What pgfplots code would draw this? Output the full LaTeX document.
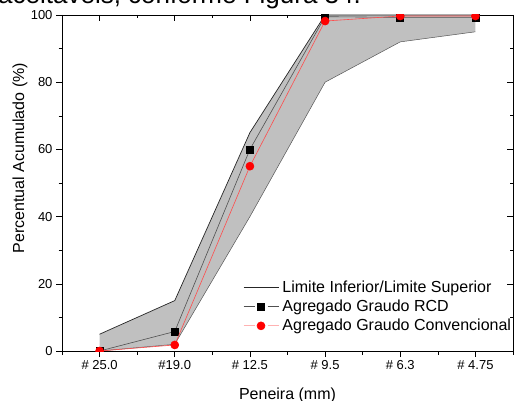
\documentclass[border=0pt]{standalone}
\usepackage{pgfplots}
\pgfplotsset{compat=1.18}
\usepackage{fontspec}
\setmainfont{Liberation Sans}
\definecolor{fillgray}{HTML}{C0C0C0}
\definecolor{rcdline}{HTML}{505050}
\begin{document}
\begin{tikzpicture}[x=1bp,y=1bp]
\node[anchor=base west, inner sep=0, font=\fontsize{26bp}{30bp}\selectfont] at (-2,396) {aceitáveis, conforme Figura 34.};
\pgfplotsset{myax/.style={at={(62bp,49bp)}, anchor=south west, scale only axis,
  width=451bp, height=336bp, xmin=-0.5, xmax=5.5, ymin=0, ymax=100,
  xtick={0,...,5}, minor xtick={-0.5,0.5,...,5.5},
  ytick={0,20,...,100}, minor ytick={10,30,...,90},
  major tick length=6bp, minor tick length=3.5bp,
  every tick/.style={black, line width=0.6bp}, every minor tick/.style={black, line width=0.6bp}}}
\begin{axis}[myax, axis line style={draw=none}, xtick pos=upper, ytick pos=right,
  tick align=inside, xticklabels={}, yticklabels={}]
\end{axis}
\begin{axis}[myax, tick align=outside, xtick pos=lower, ytick pos=left,
  axis line style={black, line width=0.8bp},
  xticklabels={\# 25.0, \#19.0, \# 12.5, \# 9.5, \# 6.3, \# 4.75},
  clip marker paths=true,
  /pgf/number format/assume math mode=true,
  ticklabel style={font=\fontsize{13bp}{15bp}\selectfont},
  label style={font=\fontsize{16bp}{19bp}\selectfont},
  xlabel={Peneira (mm)},
  xlabel style={at={(axis description cs:0.5,-0.143)}, anchor=base},
  ylabel={Percentual Acumulado (\%)},
  ylabel style={at={(axis description cs:-0.093,0.574)}, anchor=center, rotate=0},
  legend image code/.code={\draw[#1] (0bp,0bp) -- (35bp,0bp);},
  legend style={at={(axis description cs:0.401,0.213)}, anchor=north west, draw=none, fill=none,
    inner sep=0pt, row sep=3bp, font=\fontsize{16bp}{19bp}\selectfont,
    nodes={inner sep=1.5bp}, /tikz/every odd column/.append style={column sep=2bp}},
  legend cell align=left,
  ]
\addplot[fill=fillgray, draw=none, forget plot] coordinates {(0,5)(1,15)(2,65)(3,100)(4,100)(5,100)(5,95)(4,92)(3,80)(2,40)(1,2)(0,0)};
\addplot[color=black!55!fillgray, line width=0.5bp, forget plot] coordinates {(0,0)(1,2)(2,40)(3,80)(4,92)(5,95)};
\addplot[color=black!85, line width=0.7bp] coordinates {(0,5)(1,15)(2,65)(3,100)(4,100)(5,100)};
\addlegendentry{Limite Inferior/Limite Superior}
\addplot[color=rcdline, line width=0.6bp, mark=square*, mark size=3.5bp, mark options={black, fill=black},
  legend image code/.code={\draw[rcdline, line width=0.6bp] (0bp,0bp) -- (11bp,0bp) (24bp,0bp) -- (35bp,0bp);
    \fill[black] (14bp,-3.5bp) rectangle (21bp,3.5bp);}] coordinates {(0,0)(1,5.8)(2,60)(3,99.5)(4,99.3)(5,99.3)};
\addlegendentry{Agregado Graudo RCD}
\addplot[color=red!70, line width=0.6bp, mark=*, mark size=4bp, mark options={red, fill=red},
  legend image code/.code={\draw[red!30, line width=0.9bp] (0bp,0bp) -- (11bp,0bp) (24bp,0bp) -- (35bp,0bp);
    \fill[red] (17.5bp,0bp) circle (4bp);}] coordinates {(0,0)(1,1.8)(2,55)(3,98.2)(4,99.7)(5,99.7)};
\addlegendentry{Agregado Graudo Convencional}
\end{axis}
\pgfresetboundingbox
\useasboundingbox (0,0) rectangle (515,400);
\end{tikzpicture}
\end{document}
